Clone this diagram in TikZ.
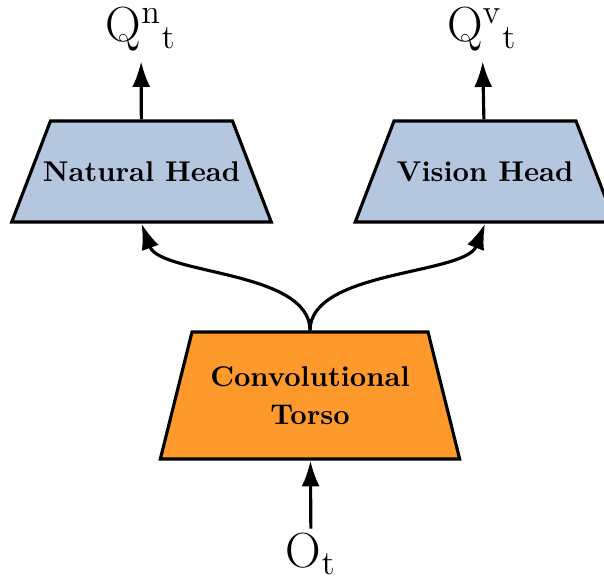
\documentclass[tikz,border=0pt]{standalone}
\usepackage{tikz}
\usetikzlibrary{arrows.meta, shapes.geometric}

\definecolor{headblue}{RGB}{180,199,222}
\definecolor{torsoorange}{RGB}{254,153,44}
\newcommand{\pxu}{0.35pt}

\begin{document}
\begin{tikzpicture}[x=\pxu, y=-\pxu, line width=1.1pt,
    >={Latex[length=9pt, width=6.3pt]},
    head/.style={draw, fill=headblue, trapezium, trapezium angle=69,
      inner sep=0pt, text height=21.1pt, text depth=14.25pt,
      font=\bfseries},
    torsobox/.style={draw, fill=torsoorange, trapezium, trapezium angle=76,
      inner sep=0pt, text width=236*\pxu, align=center,
      text height=18.97pt, text depth=25.48pt, font=\bfseries},
    qlabel/.style={font=\LARGE, inner sep=3pt}]
      \useasboundingbox (0,0) rectangle (604,585);

      % Nodes
      \node[head] (nat) at (141.5, 171.5) {\makebox[63.7pt]{Natural Head}};
      \node[head] (vis) at (485, 171.5) {\makebox[63.7pt]{Vision Head}};
      \node[torsobox] (torso) at (310, 395.5) {Convolutional\\[1.3pt] Torso};
      \node[qlabel] (qn) at (141, 29) {Q$^{\mathrm{n}}{}_{\mathrm{t}}$};
      \node[qlabel] (qv) at (482, 29) {Q$^{\mathrm{v}}{}_{\mathrm{t}}$};
      \node[qlabel, inner sep=1pt] (ot) at (311, 554) {O$_{\mathrm{t}}$};

      % Edges
      \path[->] (nat) edge (qn)
                (vis) edge (qv)
                (ot) edge (torso);
      \draw[->] (torso.north) .. controls (310, 270) and (160, 275) .. (nat.south);
      \draw[->] (torso.north) .. controls (310, 270) and (465, 275) .. (vis.south);

    \end{tikzpicture}
\end{document}
